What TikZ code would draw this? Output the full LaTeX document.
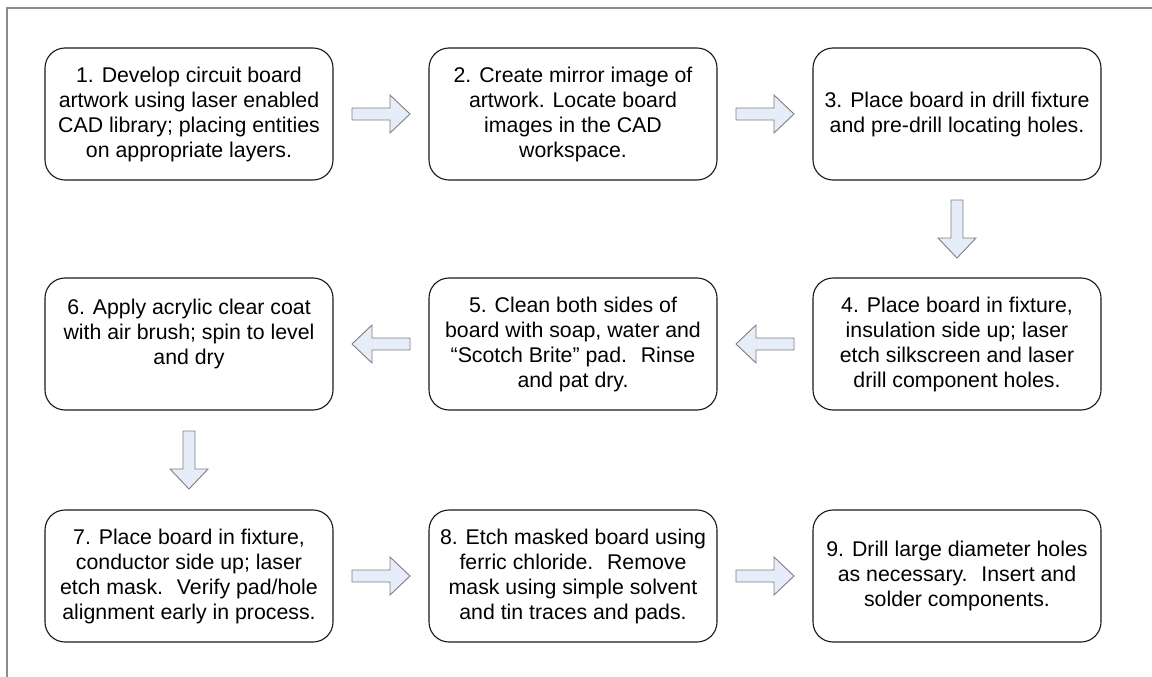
\documentclass[tikz,border=0pt]{standalone}
\usepackage{fontspec}
\setmainfont{Liberation Sans}
\usepackage{xcolor}
\usetikzlibrary{calc}

\definecolor{arrowfill}{HTML}{E6ECF8}
\definecolor{arrowline}{HTML}{7F7F7F}
\definecolor{framegray}{HTML}{8C8C8C}

\tikzset{
  stepbox/.style={draw=black!90, line width=1.1pt, rounded corners=20pt,
    minimum width=288pt, minimum height=132pt, align=center, inner sep=0pt,
    font=\fontsize{21.3}{25}\selectfont},
  blockarrow/.pic={
    \draw[draw=arrowline, fill=arrowfill, line width=0.9pt]
      (-29,-6) -- (9,-6) -- (9,-19) -- (29,0) -- (9,19) -- (9,6) -- (-29,6) -- cycle;
  }
}

\begin{document}
\begin{tikzpicture}[x=1pt,y=-1pt]
    % Area
    \useasboundingbox (0,0) rectangle (1152,677);
    % Cornice
    \draw[framegray, line width=2pt] (7,677) -- (7,8) -- (1152,8);

    % Riga 1
    \node[stepbox] (s1) at (189,114) {1. Develop circuit board\\artwork using laser enabled\\CAD library; placing entities\\on appropriate layers.};
    \node[stepbox] (s2) at (573,114) {2. Create mirror image of\\artwork. Locate board\\images in the CAD\\workspace.};
    \node[stepbox] (s3) at (957,114) {3. Place board in drill fixture\\and pre-drill locating holes.};

    % Riga 2
    \node[stepbox] (s4) at (957,344) {4. Place board in fixture,\\insulation side up; laser\\etch silkscreen and laser\\drill component holes.};
    \node[stepbox] (s5) at (573,344) {5. Clean both sides of\\board with soap, water and\\“Scotch Brite” pad.~ Rinse\\and pat dry.};
    \node[stepbox] (s6) at (189,344) {6. Apply acrylic clear coat\\with air brush; spin to level\\and dry\\~};

    % Riga 3
    \node[stepbox] (s7) at (189,576) {7. Place board in fixture,\\conductor side up; laser\\etch mask.~ Verify pad/hole\\alignment early in process.};
    \node[stepbox] (s8) at (573,576) {8. Etch masked board using\\ferric chloride.~ Remove\\mask using simple solvent\\and tin traces and pads.};
    \node[stepbox] (s9) at (957,576) {9. Drill large diameter holes\\as necessary.~ Insert and\\solder components.};

    % Frecce
    \pic at ($(s1.east)!0.5!(s2.west)$) {blockarrow};
    \pic at ($(s2.east)!0.5!(s3.west)$) {blockarrow};
    \pic[rotate=-90] at ($(s3.south)!0.5!(s4.north)$) {blockarrow};
    \pic[rotate=180] at ($(s4.west)!0.5!(s5.east)$) {blockarrow};
    \pic[rotate=180] at ($(s5.west)!0.5!(s6.east)$) {blockarrow};
    \pic[rotate=-90] at ($(s6.south)!0.5!(s7.north)$) {blockarrow};
    \pic at ($(s7.east)!0.5!(s8.west)$) {blockarrow};
    \pic at ($(s8.east)!0.5!(s9.west)$) {blockarrow};
\end{tikzpicture}
\end{document}
